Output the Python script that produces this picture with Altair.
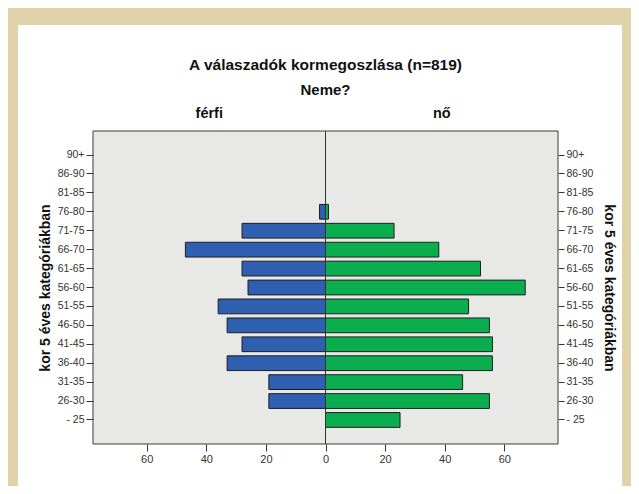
import altair as alt
import pandas as pd

categories = ["90+", "86-90", "81-85", "76-80", "71-75", "66-70", "61-65",
              "56-60", "51-55", "46-50", "41-45", "36-40", "31-35", "26-30", "- 25"]
male = [0, 0, 0, 2, 28, 47, 28, 26, 36, 33, 28, 33, 19, 19, 0]
female = [0, 0, 0, 1, 23, 38, 52, 67, 48, 55, 56, 56, 46, 55, 25]
x_ticks = [-60, -40, -20, 0, 20, 40, 60]

rows = []
for c, m, f in zip(categories, male, female):
    rows.append({"kor": c, "nem": "férfi", "v": -m})
    rows.append({"kor": c, "nem": "nő", "v": f})
df = pd.DataFrame(rows)
cats_df = pd.DataFrame({"kor": categories})

W, H = 465, 313
FONT = "Liberation Sans"
YTITLE = "kor 5 éves kategóriákban"

xscale = alt.Scale(domain=[-78, 78], nice=False, zero=False)
yscale = alt.Scale(domain=categories, paddingInner=0.22, paddingOuter=0.88)

# decoration: white panel on beige frame, gray plot area
panel = alt.Chart(cats_df.head(1)).mark_rect(color="white").encode(
    x=alt.value(-75), x2=alt.value(529), y=alt.value(-106), y2=alt.value(400)
)
plotbg = alt.Chart(cats_df.head(1)).mark_rect(
    fill="#e8e8e6", stroke="#3a3a3a", strokeWidth=1
).encode(x=alt.value(0), x2=alt.value(W), y=alt.value(0), y2=alt.value(H))

bars = alt.Chart(df).mark_bar(stroke="#1e1e1e", strokeWidth=1).encode(
    x=alt.X("v:Q", scale=xscale,
            axis=alt.Axis(values=x_ticks, labelExpr="abs(datum.value)", title=None,
                          grid=False, domain=False, tickSize=7, tickColor="#333",
                          labelColor="#333", labelFontSize=11, labelFont=FONT,
                          labelPadding=2, zindex=2)),
    y=alt.Y("kor:N", scale=yscale, sort=categories,
            axis=alt.Axis(orient="left", title=YTITLE, titleFont=FONT, titleFontSize=14,
                          titleFontWeight="bold", titleColor="#111", titleAngle=-90,
                          titleX=-48, titleY=H / 2, titleAlign="center",
                          titleBaseline="middle", domain=False, tickSize=7,
                          tickColor="#333", labelColor="#333", labelFontSize=10.5,
                          labelFont=FONT, labelPadding=2, zindex=2)),
    color=alt.Color("nem:N", scale=alt.Scale(domain=["férfi", "nő"],
                                             range=["#2e5fb0", "#0aae4f"]), legend=None),
)

right_axis = alt.Chart(cats_df).mark_point(opacity=0).encode(
    y=alt.Y("kor:N", scale=yscale, sort=categories,
            axis=alt.Axis(orient="right", title=YTITLE, titleFont=FONT, titleFontSize=14,
                          titleFontWeight="bold", titleColor="#111", titleAngle=90,
                          titleX=50, titleY=H / 2, titleAlign="center",
                          titleBaseline="middle", domain=False, tickSize=6,
                          tickColor="#333", labelColor="#333", labelFontSize=10.5,
                          labelFont=FONT, labelPadding=2, zindex=2)),
)

zero_rule = alt.Chart(cats_df.head(1)).mark_rule(color="#333", strokeWidth=1).encode(
    x=alt.datum(0, scale=xscale)
)

titles_df = pd.DataFrame({
    "t": ["A válaszadók kormegoszlása (n=819)", "Neme?"],
    "x": [0, 0],
})
title_main = alt.Chart(titles_df.head(1)).mark_text(
    font=FONT, fontSize=15.5, fontWeight="bold", color="#111", baseline="alphabetic"
).encode(x=alt.X("x:Q", scale=xscale), y=alt.value(-61), text="t:N")
title_sub = alt.Chart(titles_df.tail(1)).mark_text(
    font=FONT, fontSize=15, fontWeight="bold", color="#111", baseline="alphabetic"
).encode(x=alt.X("x:Q", scale=xscale), y=alt.value(-36), text="t:N")

heads_df = pd.DataFrame({"t": ["férfi", "nő"], "x": [-39, 39]})
heads = alt.Chart(heads_df).mark_text(
    font=FONT, fontSize=14.5, fontWeight="bold", color="#111", baseline="alphabetic"
).encode(x=alt.X("x:Q", scale=xscale), y=alt.value(-13), text="t:N")

chart = alt.layer(
    panel, plotbg, bars, zero_rule, right_axis, title_main, title_sub, heads
).resolve_axis(y="independent").properties(
    width=W, height=H,
    background="#e0d3aa",
    padding={"left": 85, "top": 123, "right": 73, "bottom": 42},
    autosize=alt.AutoSizeParams(type="none"),
).configure_view(stroke=None, fill=None)

chart.save("out.html", embed_options={"renderer": "svg", "actions": False})
